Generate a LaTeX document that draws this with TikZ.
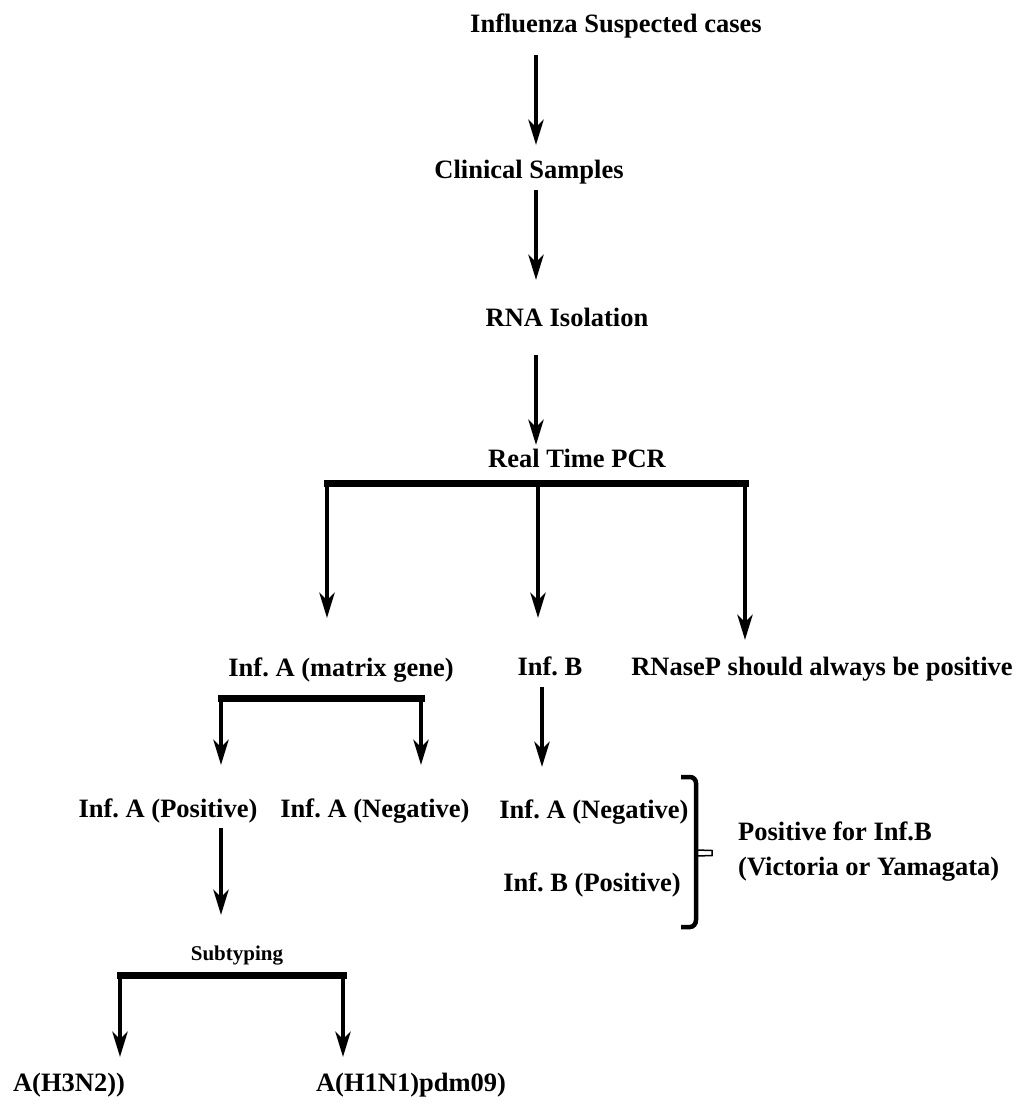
\documentclass[tikz,border=0pt]{standalone}
\usepackage{fontspec}
\setmainfont{Liberation Serif}
\usetikzlibrary{arrows.meta}
\frenchspacing
\begin{document}
\begin{tikzpicture}[x=1pt, y=-1pt,
    >={Stealth[length=25pt, width=15pt, inset=7pt]},
    lbl/.style={font=\fontsize{26.5}{30}\selectfont\bfseries, anchor=base, inner sep=0pt},
    lblsmall/.style={font=\fontsize{21}{24}\selectfont\bfseries, anchor=base, inner sep=0pt},
    flow/.style={->, line width=4.5pt},
    bar/.style={line width=7pt, line cap=rect},
    bracket/.style={line width=4.5pt}]
    \useasboundingbox (0,0) rectangle (1021,1104);

    % main chain
    \node[lbl] (infl) at (616,32) {Influenza Suspected cases};
    \node[lbl] (clin) at (529,178) {Clinical Samples};
    \node[lbl] (rna) at (567,326) {RNA Isolation};
    \node[lbl] (pcr) at (577,467) {Real Time PCR};

    \coordinate (a1s) at (536,55);  \coordinate (a1e) at (536,145);
    \coordinate (a2s) at (536,190); \coordinate (a2e) at (536,280);
    \coordinate (a3s) at (536,355); \coordinate (a3e) at (536,445);
    \draw[flow] (a1s) -- (a1e);
    \draw[flow] (a2s) -- (a2e);
    \draw[flow] (a3s) -- (a3e);

    % first split
    \node[lbl] (infa) at (341,676) {Inf. A (matrix gene)};
    \node[lbl] (infb) at (550,675) {Inf. B};
    \node[lbl] (rnasep) at (822,675) {RNaseP should always be positive};

    \coordinate (b1w) at (327,483);
    \coordinate (b1m) at (538,483);
    \coordinate (b1e) at (745,483);
    \draw[bar] (b1w) -- (b1e);
    \draw[flow] (b1w) -- (327,618);
    \draw[flow] (b1m) -- (538,618);
    \draw[flow] (b1e) -- (745,640);

    % Inf. A branch
    \node[lbl] (apos) at (168,817) {Inf. A (Positive)};
    \node[lbl] (aneg) at (375,817) {Inf. A (Negative)};

    \coordinate (b2w) at (221,698);
    \coordinate (b2e) at (421,698);
    \draw[bar] (b2w) -- (b2e);
    \draw[flow] (b2w) -- (221,765);
    \draw[flow] (b2e) -- (421,765);

    % Inf. B branch
    \node[lbl] (bneg) at (594,818) {Inf. A (Negative)};
    \node[lbl] (bpos) at (592,891) {Inf. B (Positive)};
    \node[lbl, anchor=base west] (bres1) at (738,840) {Positive for Inf.B};
    \node[lbl, anchor=base west] (bres2) at (738,875) {(Victoria or Yamagata)};

    \coordinate (a4s) at (542,687); \coordinate (a4e) at (542,767);
    \draw[flow] (a4s) -- (a4e);

    \draw[bracket] (681,777) -- (690,777) to[out=0, in=90] (696,783)
        -- (696,920) to[out=-90, in=0] (690,927) -- (681,927);
    \draw[line width=1.5pt] (697,850) -- (712,850.5) -- (712,855.5) -- (697,856);

    % subtyping
    \node[lblsmall] (subt) at (237,960) {Subtyping};
    \node[lbl] (h3) at (69,1091) {A(H3N2))};
    \node[lbl] (h1) at (411,1091) {A(H1N1)pdm09)};

    \coordinate (a5s) at (221,828); \coordinate (a5e) at (221,915);
    \draw[flow] (a5s) -- (a5e);

    \coordinate (b3w) at (120,975);
    \coordinate (b3e) at (343,975);
    \draw[bar] (b3w) -- (b3e);
    \draw[flow] (b3w) -- (120,1057);
    \draw[flow] (b3e) -- (343,1057);
\end{tikzpicture}
\end{document}
